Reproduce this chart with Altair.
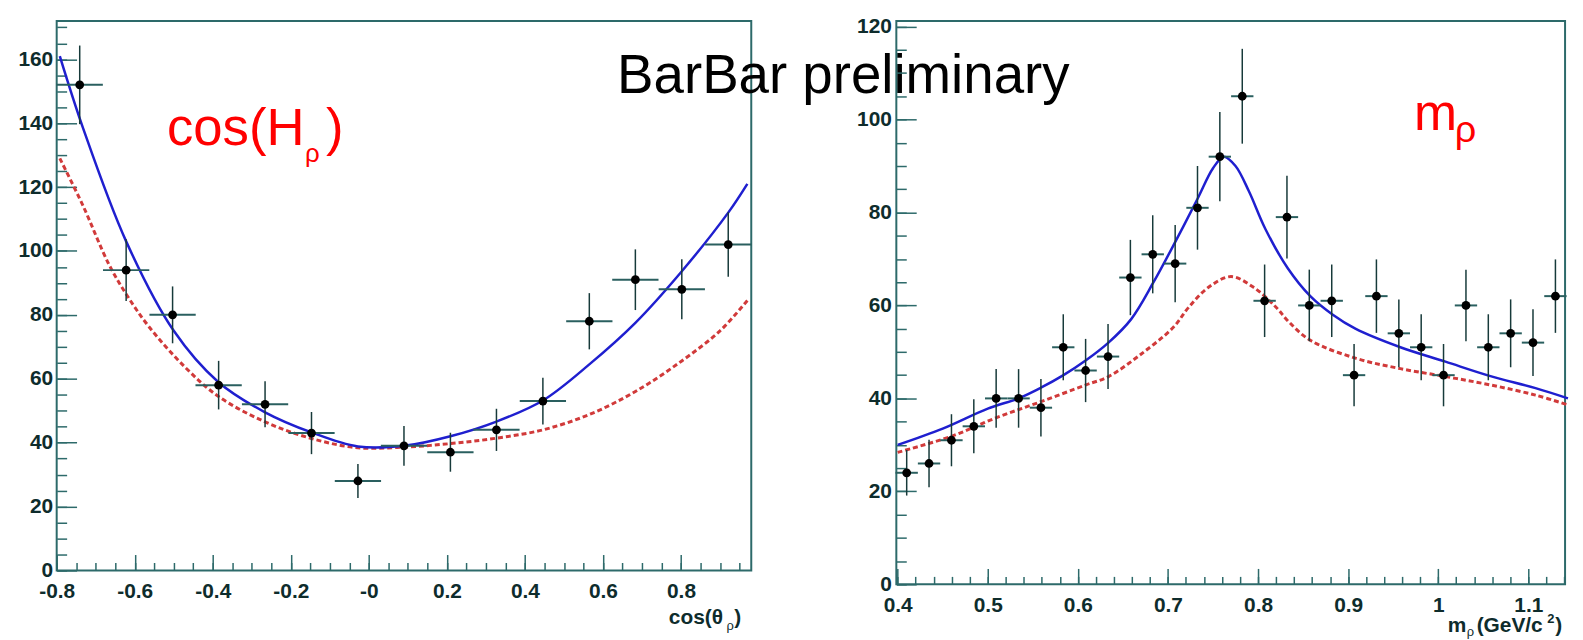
import altair as alt
import pandas as pd

# ---------------- left panel: cos(theta_rho) ----------------
cos_x = [-0.741, -0.622, -0.503, -0.385, -0.266, -0.147, -0.028, 0.090,
         0.209, 0.327, 0.446, 0.565, 0.683, 0.802, 0.921]
cos_y = [152, 94, 80, 58, 52, 43, 28, 39, 37, 44, 53, 78, 91, 88, 102]
cos_err = [12.3, 9.7, 8.9, 7.6, 7.2, 6.6, 5.3, 6.2, 6.1, 6.6, 7.3, 8.8, 9.5, 9.4, 10.1]
cos_half = 0.0593

cos_blue_x = [-0.792, -0.732, -0.622, -0.500, -0.386, -0.266, -0.147, -0.028, 0.090,
              0.209, 0.327, 0.446, 0.565, 0.683, 0.801, 0.921, 0.970]
cos_blue_y = [161, 138.3, 103, 75, 59, 49.5, 43.2, 38.8, 39.0, 42, 46.6, 53.2, 64.5,
              77.5, 93.5, 112, 121]
cos_red_x = [-0.792, -0.732, -0.667, -0.622, -0.563, -0.470, -0.386, -0.266, -0.147,
             -0.028, 0.090, 0.209, 0.327, 0.446, 0.565, 0.683, 0.801, 0.900, 0.970]
cos_red_y = [129, 114, 96, 86.5, 76.2, 63.5, 54.5, 46.5, 41.3, 38.4, 38.6, 39.7, 41.4,
             44, 48.8, 56, 65.5, 75, 84.5]

cos_xmajor = [-0.8, -0.6, -0.4, -0.2, 0.0, 0.2, 0.4, 0.6, 0.8]
cos_ymajor = [0, 20, 40, 60, 80, 100, 120, 140, 160]

# ---------------- right panel: m_rho ----------------
m_x = [0.4100, 0.4348, 0.4597, 0.4845, 0.5093, 0.5342, 0.5590, 0.5838, 0.6086, 0.6335,
       0.6583, 0.6831, 0.7080, 0.7328, 0.7576, 0.7825, 0.8073, 0.8321, 0.8569, 0.8818,
       0.9066, 0.9314, 0.9563, 0.9811, 1.0059, 1.0308, 1.0556, 1.0804, 1.1052, 1.1301]
m_y = [24, 26, 31, 34, 40, 40, 38, 51, 46, 49, 66, 71, 69, 81, 92, 105, 61, 79, 60, 61,
       45, 62, 54, 51, 45, 60, 51, 54, 52, 62]
m_err = [4.9, 5.1, 5.6, 5.8, 6.3, 6.3, 6.2, 7.1, 6.8, 7.0, 8.1, 8.4, 8.3, 9.0, 9.6, 10.2,
         7.8, 8.9, 7.7, 7.8, 6.7, 7.9, 7.3, 7.1, 6.7, 7.7, 7.1, 7.3, 7.2, 7.9]
m_half = 0.0124

m_blue_x = [0.400, 0.450, 0.500, 0.534, 0.559, 0.584, 0.609, 0.634, 0.659, 0.684, 0.709,
            0.733, 0.750, 0.762, 0.775, 0.790, 0.808, 0.833, 0.858, 0.883, 0.908, 0.958,
            1.008, 1.058, 1.108, 1.144]
m_blue_y = [30, 33.5, 37.8, 40, 42.3, 45, 48.2, 52, 57, 65, 74, 83, 89.5, 92, 90, 84.5,
            76.5, 68, 62, 58, 55, 51, 47.9, 44.8, 42.2, 40]
m_red_x = [0.400, 0.459, 0.509, 0.559, 0.609, 0.634, 0.670, 0.706, 0.723, 0.745, 0.770,
           0.795, 0.820, 0.834, 0.858, 0.909, 0.958, 1.008, 1.058, 1.108, 1.144]
m_red_y = [28.4, 31.8, 35.8, 39.3, 42.9, 44.7, 49.5, 55.3, 59.6, 63.9, 66.2, 63.9, 59.6,
           56.5, 52.5, 48.6, 46.4, 44.7, 42.9, 40.7, 38.6]

m_xmajor = [0.4, 0.5, 0.6, 0.7, 0.8, 0.9, 1.0, 1.1]
m_ymajor = [0, 20, 40, 60, 80, 100, 120]

FONT = "Liberation Sans, Arial, Helvetica, sans-serif"
AXC = "#2d6a6a"
LABC = "#0e2c2c"
BLUE = "#1f1fcf"
RED = "#d13a3a"
TICKFS = 21


def frange(a, b, step):
    n = int(round((b - a) / step))
    return [round(a + i * step, 6) for i in range(n + 1)]


def make_panel(px, py, perr, half, bx, by, rx, ry, xdom, ydom, w, h,
               xmaj, xmin, ymaj, ymin, xlabexpr, xlabpad, ylabpad, texts):
    pts = pd.DataFrame({"x": px, "y": py, "err": perr})
    blue = pd.DataFrame({"x": bx, "y": by})
    red = pd.DataFrame({"x": rx, "y": ry})
    xs = alt.Scale(domain=xdom, nice=False, zero=False)
    ys = alt.Scale(domain=ydom, nice=False, zero=False)

    common = dict(title=None, grid=False, domain=False, tickColor=AXC, tickWidth=1.5,
                  labelFlush=False, labelOverlap=False)
    ax_xmaj = alt.Axis(orient="bottom", values=xmaj, offset=-16, tickSize=16,
                       labelFont=FONT, labelFontSize=TICKFS, labelFontWeight="bold",
                       labelColor=LABC, labelPadding=xlabpad, labelExpr=xlabexpr, **common)
    ax_ymaj = alt.Axis(orient="left", values=ymaj, offset=-20, tickSize=20,
                       labelFont=FONT, labelFontSize=TICKFS, labelFontWeight="bold",
                       labelColor=LABC, labelPadding=ylabpad, format="d", **common)
    ax_xmin = alt.Axis(orient="bottom", values=xmin, offset=-8, tickSize=8, labels=False,
                       **common)
    ax_ymin = alt.Axis(orient="left", values=ymin, offset=-10, tickSize=10, labels=False,
                       **common)

    base = alt.Chart(pts).transform_calculate(
        xlo=f"datum.x - {half}", xhi=f"datum.x + {half}",
        ylo="datum.y - datum.err", yhi="datum.y + datum.err")

    red_l = alt.Chart(red).mark_line(color=RED, strokeDash=[5, 3], strokeWidth=3,
                                     interpolate="catmull-rom").encode(
        x=alt.X("x:Q", scale=xs, axis=ax_xmin), y=alt.Y("y:Q", scale=ys, axis=ax_ymin))
    blue_l = alt.Chart(blue).mark_line(color=BLUE, strokeWidth=2.5,
                                       interpolate="catmull-rom").encode(
        x=alt.X("x:Q", scale=xs, axis=None), y=alt.Y("y:Q", scale=ys, axis=None))
    hbar = base.mark_rule(color="#2a5f5f", strokeWidth=2).encode(
        x=alt.X("xlo:Q", scale=xs, axis=None), x2="xhi:Q",
        y=alt.Y("y:Q", scale=ys, axis=None))
    vbar = base.mark_rule(color="#173a3a", strokeWidth=1.5).encode(
        x=alt.X("x:Q", scale=xs, axis=None),
        y=alt.Y("ylo:Q", scale=ys, axis=None), y2="yhi:Q")
    dots = base.mark_circle(size=78, color="black", opacity=1).encode(
        x=alt.X("x:Q", scale=xs, axis=ax_xmaj), y=alt.Y("y:Q", scale=ys, axis=ax_ymaj))

    layers = [red_l, blue_l, hbar, vbar, dots]
    for (t, tx, ty, size, color, weight) in texts:
        layers.append(
            alt.Chart(pd.DataFrame({"t": [t]})).mark_text(
                align="left", baseline="alphabetic", font=FONT, fontSize=size,
                color=color, fontWeight=weight).encode(
                x=alt.value(tx), y=alt.value(ty), text="t:N"))
    return alt.layer(*layers).resolve_axis(x="independent", y="independent").properties(
        width=w, height=h)


left_texts = [
    ("BarBar preliminary", 564, 73, 55, "black", "normal"),
    ("cos(H", 111, 125, 53, "#ff0000", "normal"),
    ("ρ", 250, 142, 26, "#ff0000", "normal"),
    (")", 271, 125, 53, "#ff0000", "normal"),
    ("cos(θ", 616, 607, 21, LABC, "bold"),
    ("ρ", 674, 613, 13, LABC, "normal"),
    (")", 682, 607, 21, LABC, "bold"),
]
right_texts = [
    ("m", 555, 615, 21, LABC, "bold"),
    ("ρ", 574, 619, 13, LABC, "normal"),
    ("(GeV/c", 584, 615, 21, LABC, "bold"),
    ("2", 655, 606, 13, LABC, "bold"),
    (")", 663, 615, 21, LABC, "bold"),
    ("m", 521, 110, 52, "#ff0000", "normal"),
    ("ρ", 562, 122, 38, "#ff0000", "normal"),
]

left = make_panel(cos_x, cos_y, cos_err, cos_half, cos_blue_x, cos_blue_y,
                  cos_red_x, cos_red_y, [-0.8, 0.98], [0, 172], 699, 553,
                  cos_xmajor, frange(-0.8, 0.95, 0.05), cos_ymajor, frange(0, 170, 5),
                  "datum.value < -0.001 ? '-' + format(-datum.value, '.1f') : "
                  "(datum.value < 0.001 ? '-0' : format(datum.value, '.1f'))",
                  10, 4, left_texts)
right = make_panel(m_x, m_y, m_err, m_half, m_blue_x, m_blue_y, m_red_x, m_red_y,
                   [0.3985, 1.1408], [0, 121.2], 673, 567,
                   m_xmajor, frange(0.4, 1.14, 0.02), m_ymajor, frange(0, 120, 5),
                   "format(datum.value, '.2~f')", 10, 5, right_texts)

chart = alt.hconcat(left, right, spacing=146, bounds="flush").properties(
    padding={"left": 8, "top": 4, "right": 0, "bottom": 0}
).configure_view(stroke=AXC, strokeWidth=2)

chart.save("out.html", embed_options={"renderer": "svg", "actions": False})
